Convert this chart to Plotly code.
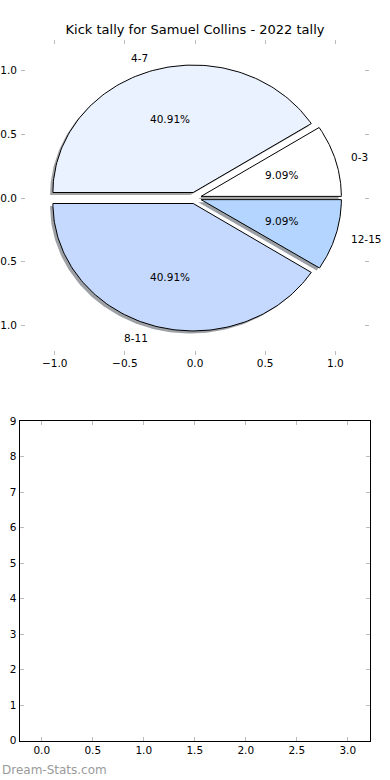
import numpy as np
import plotly.graph_objects as go

# ---- data ----
categories = ["0-3", "4-7", "8-11", "12-15"]
counts = [2, 9, 9, 2]
slice_colors = ["#ffffff", "#eaf1ff", "#c5d9ff", "#b4d5ff"]
explode = [0.045, 0.045, 0.045, 0.045]
title_text = "Kick tally for Samuel Collins - 2022 tally"
pie_ticks = [-1.0, -0.5, 0.0, 0.5, 1.0]
pie_ticklabels = ["\u22121.0", "\u22120.5", "0.0", "0.5", "1.0"]
bottom_xticks = [0.0, 0.5, 1.0, 1.5, 2.0, 2.5, 3.0]
bottom_yticks = list(range(0, 10))
watermark = "Dream-Stats.com"

FONT = "DejaVu Sans"
fig = go.Figure()

total = float(sum(counts))
fracs = np.array(counts, dtype=float) / total
starts = np.concatenate([[0.0], np.cumsum(fracs)[:-1]]) * 360.0
ends = np.cumsum(fracs) * 360.0


def hex_to_rgb(h):
    h = h.lstrip("#")
    return tuple(int(h[i:i + 2], 16) for i in (0, 2, 4))


def wedge(cx, cy, t1, t2, r=1.0):
    th = np.radians(np.linspace(t1, t2, 120))
    xs = np.concatenate([[cx], cx + r * np.cos(th), [cx]])
    ys = np.concatenate([[cy], cy + r * np.sin(th), [cy]])
    return xs, ys


label_x, label_y, label_pos = [], [], []
pct_x, pct_y, pct_t = [], [], []
for i, cat in enumerate(categories):
    t1, t2 = starts[i], ends[i]
    tm = np.radians((t1 + t2) / 2)
    cx = explode[i] * np.cos(tm)
    cy = explode[i] * np.sin(tm)
    # shadow
    r, g, b = hex_to_rgb(slice_colors[i])
    sx, sy = wedge(cx - 0.02, cy - 0.02, t1, t2)
    fig.add_trace(go.Scatter(
        x=sx, y=sy, mode="lines", fill="toself",
        fillcolor=f"rgba({int(r*0.3)},{int(g*0.3)},{int(b*0.3)},0.5)",
        line=dict(width=0), hoverinfo="skip", showlegend=False,
        xaxis="x", yaxis="y"))
    wx, wy = wedge(cx, cy, t1, t2)
    fig.add_trace(go.Scatter(
        x=wx, y=wy, mode="lines", fill="toself",
        fillcolor=slice_colors[i],
        line=dict(width=1, color="black"), hoverinfo="skip", showlegend=False,
        xaxis="x", yaxis="y"))
    lx = cx + 1.1 * np.cos(tm)
    ly = cy + 1.1 * np.sin(tm)
    label_x.append(lx)
    label_y.append(ly)
    label_pos.append("right" if lx > 0 else "left")
    pct_x.append(cx + 0.6 * np.cos(tm))
    pct_y.append(cy + 0.6 * np.sin(tm))
    pct_t.append(f"{fracs[i]*100:.2f}%")

for lx, ly, lp, txt in zip(label_x, label_y, label_pos, categories):
    fig.add_annotation(x=lx, y=ly, xref="x", yref="y", text=txt, showarrow=False,
                       xanchor="left" if lp == "right" else "right",
                       yanchor="middle", font=dict(family=FONT, size=10.5, color="black"))
for px, py, txt in zip(pct_x, pct_y, pct_t):
    fig.add_annotation(x=px, y=py, xref="x", yref="y", text=txt, showarrow=False,
                       xanchor="center", yanchor="middle",
                       font=dict(family=FONT, size=10.5, color="black"))

# empty bottom subplot (invisible point to register axes)
fig.add_trace(go.Scatter(x=[None], y=[None], mode="markers", showlegend=False,
                         hoverinfo="skip", xaxis="x2", yaxis="y2"))

W, H = 390, 780
tick_font = dict(family=FONT, size=10.5, color="black")
common_tick = dict(ticks="inside", ticklen=4, tickwidth=1, tickcolor="#bbbbbb",
                   showgrid=False, zeroline=False, tickfont=tick_font, fixedrange=True,
                   automargin=False)

fig.update_layout(
    width=W, height=H, margin=dict(l=0, r=0, t=0, b=0, autoexpand=False),
    paper_bgcolor="white", plot_bgcolor="white",
    title=dict(text=title_text, x=0.5, xanchor="center", y=1 - 29.5 / H, yanchor="middle",
               font=dict(family=FONT, size=13, color="black")),
    xaxis=dict(domain=[21 / W, 369 / W], range=[-1.24, 1.24], anchor="y",
               tickvals=pie_ticks, ticktext=pie_ticklabels, showline=False,
               mirror="ticks", **common_tick),
    yaxis=dict(domain=[1 - 355 / H, 1 - 40 / H], range=[-1.232, 1.24], anchor="x",
               tickvals=pie_ticks, ticktext=pie_ticklabels, showline=False,
               mirror="ticks", ticklabelstandoff=3, **common_tick),
    xaxis2=dict(domain=[19.5 / W, 370 / W], range=[-0.218, 3.218], anchor="y2",
                tickvals=bottom_xticks, ticktext=[f"{v:.1f}" for v in bottom_xticks],
                showline=True, linecolor="black", linewidth=1, mirror="ticks",
                **common_tick),
    yaxis2=dict(domain=[1 - 740.5 / H, 1 - 421.3 / H], range=[0, 9], anchor="x2",
                tickvals=bottom_yticks, ticktext=[str(v) for v in bottom_yticks],
                showline=True, linecolor="black", linewidth=1, mirror="ticks",
                **common_tick),
)

fig.add_annotation(x=0, y=1 - 770 / H, xref="paper", yref="paper", text=watermark,
                   showarrow=False, xanchor="left", yanchor="middle",
                   font=dict(family=FONT, size=12, color="#9a9a9a"))

fig.write_html("out.html", config={"displayModeBar": False},
               post_script="document.body.style.margin='0px';document.body.style.overflow='hidden';")
